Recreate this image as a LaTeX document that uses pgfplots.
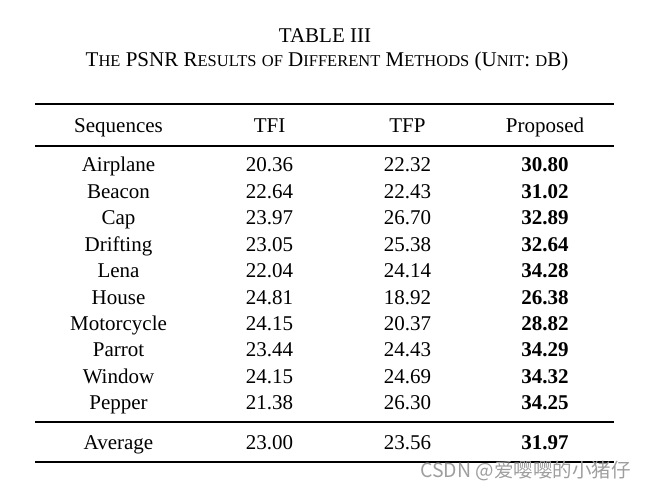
\documentclass[border=0pt]{standalone}
\usepackage{pgfplots}
\pgfplotsset{compat=1.18}
\usepackage{pgfplotstable}
\usepackage{fontspec}
\setmainfont{Liberation Serif}
\newfontfamily\cjk{Noto Sans CJK SC}
\definecolor{wmark}{RGB}{158,158,158}

% fake small caps for the caption line
\newcommand\smc[1]{{\fontsize{16.5}{18}\selectfont #1}}

% baselines in pixel units, y counted from the top
\pgfplotstableread{
x y label
118.5 172.0 Airplane
118.5 198.4 Beacon
118.5 224.8 Cap
118.5 251.2 Drifting
118.5 277.6 Lena
118.5 304.0 House
118.5 330.4 Motorcycle
118.5 356.8 Parrot
118.5 383.2 Window
118.5 409.6 Pepper
118.5 449.0 Average
}\seqcol

\pgfplotstableread{
x y label
269.5 172.0 20.36
269.5 198.4 22.64
269.5 224.8 23.97
269.5 251.2 23.05
269.5 277.6 22.04
269.5 304.0 24.81
269.5 330.4 24.15
269.5 356.8 23.44
269.5 383.2 24.15
269.5 409.6 21.38
269.5 449.0 23.00
}\tficol

\pgfplotstableread{
x y label
407.5 172.0 22.32
407.5 198.4 22.43
407.5 224.8 26.70
407.5 251.2 25.38
407.5 277.6 24.14
407.5 304.0 18.92
407.5 330.4 20.37
407.5 356.8 24.43
407.5 383.2 24.69
407.5 409.6 26.30
407.5 449.0 23.56
}\tfpcol

\pgfplotstableread{
x y label
545 172.0 30.80
545 198.4 31.02
545 224.8 32.89
545 251.2 32.64
545 277.6 34.28
545 304.0 26.38
545 330.4 28.82
545 356.8 34.29
545 383.2 34.32
545 409.6 34.25
545 449.0 31.97
}\propcol

\begin{document}
\begin{tikzpicture}[font=\fontsize{21}{25}\selectfont]
\begin{axis}[
    scale only axis,
    width=648pt, height=489pt,
    xmin=0, xmax=648, ymin=0, ymax=489,
    y dir=reverse,
    hide axis,
    clip=false,
    every node near coord/.append style={anchor=base, inner sep=0pt,
        font=\fontsize{21}{25}\selectfont, text=black},
]
\path (rel axis cs:0,0) rectangle (rel axis cs:1,1);

% rules
\addplot[black, line width=1.8pt] coordinates {(35,104) (614,104)};
\addplot[black, line width=1.1pt] coordinates {(35,146) (614,146)};
\addplot[black, line width=1.1pt] coordinates {(35,422) (614,422)};
\addplot[black, line width=1.8pt] coordinates {(35,462) (614,462)};

% table cells
\addplot[draw=none, nodes near coords, point meta=explicit symbolic]
    table[x=x, y=y, meta=label] {\seqcol};
\addplot[draw=none, nodes near coords, point meta=explicit symbolic]
    table[x=x, y=y, meta=label] {\tficol};
\addplot[draw=none, nodes near coords, point meta=explicit symbolic]
    table[x=x, y=y, meta=label] {\tfpcol};
\addplot[draw=none, nodes near coords, point meta=explicit symbolic,
    every node near coord/.append style={font=\fontsize{21}{25}\selectfont\bfseries}]
    table[x=x, y=y, meta=label] {\propcol};

% caption and header
\node[anchor=base] at (axis cs:325,43) {TABLE III};
\node[anchor=base] at (axis cs:327,67)
    {T\smc{HE} PSNR R\smc{ESULTS} \smc{OF} D\smc{IFFERENT} M\smc{ETHODS} (U\smc{NIT}: \smc{D}B)};
\node[anchor=base] at (axis cs:118.5,133) {Sequences};
\node[anchor=base] at (axis cs:269.5,133) {TFI};
\node[anchor=base] at (axis cs:407.5,133) {TFP};
\node[anchor=base] at (axis cs:545,133) {Proposed};

% watermark
\node[anchor=base east, inner sep=0pt, text=wmark, font=\cjk\fontsize{19.5}{22}\selectfont]
    at (axis cs:631,477) {CSDN @爱嘤嘤的小猪仔};
\end{axis}
\end{tikzpicture}
\end{document}
